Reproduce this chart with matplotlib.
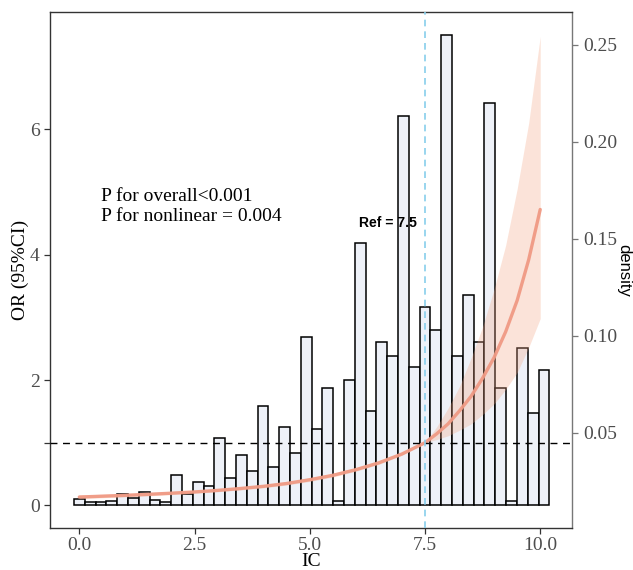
import numpy as np
import matplotlib
matplotlib.use("Agg")
import matplotlib.pyplot as plt

# histogram of IC, bar heights read on the OR scale (bins spread evenly 0 .. 10.08)
bin_lo, bin_hi = 0.0, 10.08
hist_scaled = [0.11, 0.06, 0.06, 0.07, 0.19, 0.12, 0.22, 0.09, 0.06, 0.49,
               0.18, 0.37, 0.31, 1.08, 0.44, 0.80, 0.55, 1.59, 0.62, 1.25,
               0.83, 2.68, 1.22, 1.87, 0.07, 2.00, 4.18, 1.51, 2.60, 2.38,
               6.21, 2.21, 3.17, 2.80, 7.50, 2.39, 3.35, 2.61, 6.42, 1.88,
               0.07, 2.51, 1.47, 2.16]

# RCS fit: OR with 95% CI
ic = [0, 0.5, 1, 1.5, 2, 2.5, 3, 3.5, 4, 4.5, 5, 5.5, 6, 6.5, 7, 7.5,
      7.75, 8, 8.25, 8.5, 8.75, 9, 9.25, 9.5, 9.75, 10]
or_fit = [0.134, 0.147, 0.161, 0.177, 0.195, 0.215, 0.24, 0.27, 0.305, 0.35,
          0.41, 0.48, 0.57, 0.68, 0.82, 1.0, 1.14, 1.30, 1.51, 1.74, 2.03,
          2.36, 2.77, 3.27, 3.92, 4.72]
or_lo = [0.107, 0.121, 0.136, 0.152, 0.172, 0.193, 0.217, 0.247, 0.280, 0.325,
         0.382, 0.452, 0.545, 0.655, 0.80, 1.0, 1.05, 1.11, 1.20, 1.30, 1.45,
         1.62, 1.85, 2.12, 2.52, 2.98]
or_hi = [0.166, 0.178, 0.191, 0.205, 0.222, 0.240, 0.266, 0.295, 0.332, 0.377,
         0.44, 0.51, 0.60, 0.705, 0.84, 1.0, 1.25, 1.55, 1.90, 2.35, 2.85,
         3.45, 4.15, 5.05, 6.10, 7.48]

ref = 7.5
p_text = ["P for overall<0.001", "P for nonlinear = 0.004"]

# density (right axis) <-> OR (left axis)
def or2dens(y):
    return (y + 0.384) / 30.92

def dens2or(d):
    return d * 30.92 - 0.384

serif = "Liberation Serif"
sans = "Liberation Sans"
grey = "#4D4D4D"

fig = plt.figure(figsize=(6.33, 5.70), dpi=100)
ax = fig.add_axes([0.079, 0.0737, 0.8254, 0.9053])

n = len(hist_scaled)
width = (bin_hi - bin_lo) / (n - 1)
centers = np.linspace(bin_lo, bin_hi, n)
ax.bar(centers, hist_scaled, width=width, color="#EEF1F8", edgecolor="black",
       linewidth=1.1, zorder=2)

ax.fill_between(ic, or_lo, or_hi, color="#F4A582", alpha=0.3, linewidth=0, zorder=3)
ax.plot(ic, or_fit, color="#F09A84", linewidth=2.4, alpha=0.95, zorder=4,
        solid_capstyle="round")

ax.axhline(1, color="black", linestyle=(0, (5, 4)), linewidth=1.0, zorder=5)
ax.axvline(ref, color="#87CEEB", linestyle=(0, (4, 3)), linewidth=1.2, zorder=5)

ax.text(6.7, 4.5, "Ref = 7.5", fontfamily=sans, fontweight="bold", fontsize=10,
        ha="center", va="center", zorder=6)
ax.text(0.47, 4.93, p_text[0], fontfamily=serif, fontsize=14, ha="left", va="center")
ax.text(0.47, 4.61, p_text[1], fontfamily=serif, fontsize=14, ha="left", va="center")

ax.set_xlim(-0.636, 10.70)
ax.set_ylim(-0.36, 7.87)
ax.set_xticks([0, 2.5, 5, 7.5, 10], ["0.0", "2.5", "5.0", "7.5", "10.0"])
ax.set_yticks([0, 1, 2, 4, 6], ["0", "", "2", "4", "6"])
ax.tick_params(axis="both", colors="#333333", labelcolor=grey, length=4,
               width=0.9, labelsize=14)
ax.tick_params(axis="x", pad=2.5)
for lab in ax.get_xticklabels() + ax.get_yticklabels():
    lab.set_fontfamily(serif)
for s in ax.spines.values():
    s.set_color("#333333")
    s.set_linewidth(1.0)
ax.spines["right"].set_color("#777777")

ax.set_xlabel("IC", fontfamily=serif, fontsize=14, va="center")
ax.xaxis.set_label_coords(0.5, -0.064)
ax.set_ylabel("OR (95%CI)", fontfamily=serif, fontsize=14, va="center")
ax.yaxis.set_label_coords(-0.057, 0.5)

sec = ax.secondary_yaxis("right", functions=(or2dens, dens2or))
sec.set_yticks([0.05, 0.10, 0.15, 0.20, 0.25])
sec.tick_params(colors="#777777", labelcolor=grey, length=4, width=0.9, labelsize=14)
for lab in sec.get_yticklabels():
    lab.set_fontfamily(serif)
sec.spines["right"].set_visible(False)
fig.text(624 / 633, 0.526, "density", fontfamily=sans, fontsize=12, rotation=270,
         ha="center", va="center")

fig.savefig("out.png", dpi=100)
